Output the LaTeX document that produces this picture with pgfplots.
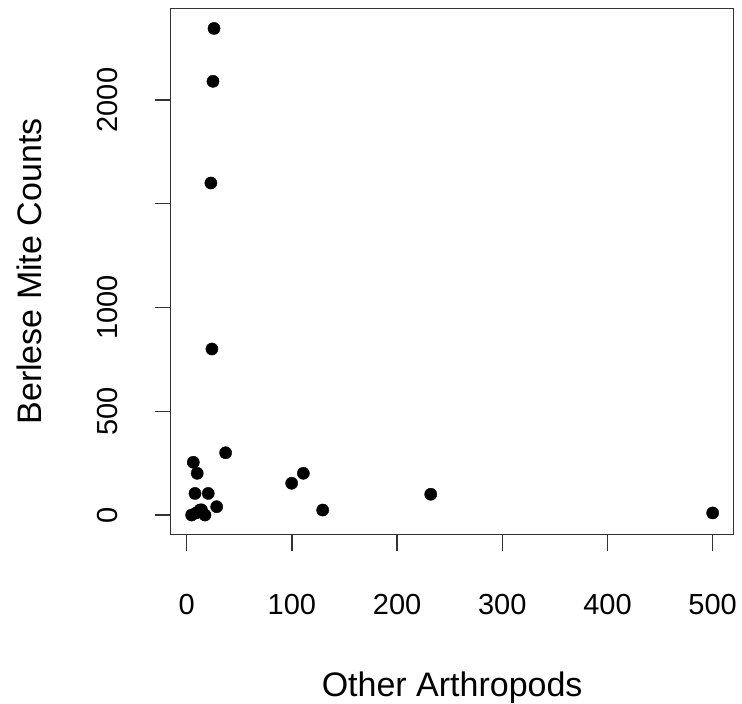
\documentclass[border=0pt]{standalone}
\usepackage{fontspec}
\setmainfont{Liberation Sans}
\usepackage{pgfplots}
\pgfplotsset{compat=1.18}
\begin{document}
\begin{tikzpicture}
\path[use as bounding box] (-170.8pt,-169.5pt) rectangle (571.2pt,534.5pt);
\begin{axis}[
  at={(0,0)}, anchor=south west,
  scale only axis,
  width=562.7pt, height=526pt,
  xmin=-15.1, xmax=519.8,
  ymin=-93.9, ymax=2441,
  xtick={0,100,200,300,400,500},
  ytick={0,500,1000,1500,2000},
  yticklabels={0,500,1000,,2000},
  xtick pos=bottom, ytick pos=left,
  tick align=outside,
  major tick length=16pt,
  axis line style={line width=1.4pt, black!80},
  every tick/.style={line width=1.3pt, black!80},
  /pgf/number format/assume math mode=true,
  scaled ticks=false,
  ticklabel style={font=\fontsize{29}{34}\selectfont},
  xticklabel style={yshift=-40pt},
  yticklabel style={rotate=90, anchor=south, yshift=33pt},
  xlabel={Other Arthropods},
  ylabel={Berlese Mite Counts},
  label style={font=\fontsize{34}{40}\selectfont},
  xlabel style={yshift=-50pt},
  ylabel style={yshift=49pt},
]
\addplot[only marks, mark=*, mark size=6.1pt, black] coordinates {
  (26,2345) (25,2090) (23,1600) (24,800)
  (37,300) (6.3,254) (10,201) (7.9,104) (20.5,104) (28.5,40)
  (4.7,0) (9,10) (12.6,24) (14,25) (17.4,0)
  (99.8,153) (110.9,201) (129.3,24) (232,100) (500,10)
};
\end{axis}
\end{tikzpicture}
\end{document}
